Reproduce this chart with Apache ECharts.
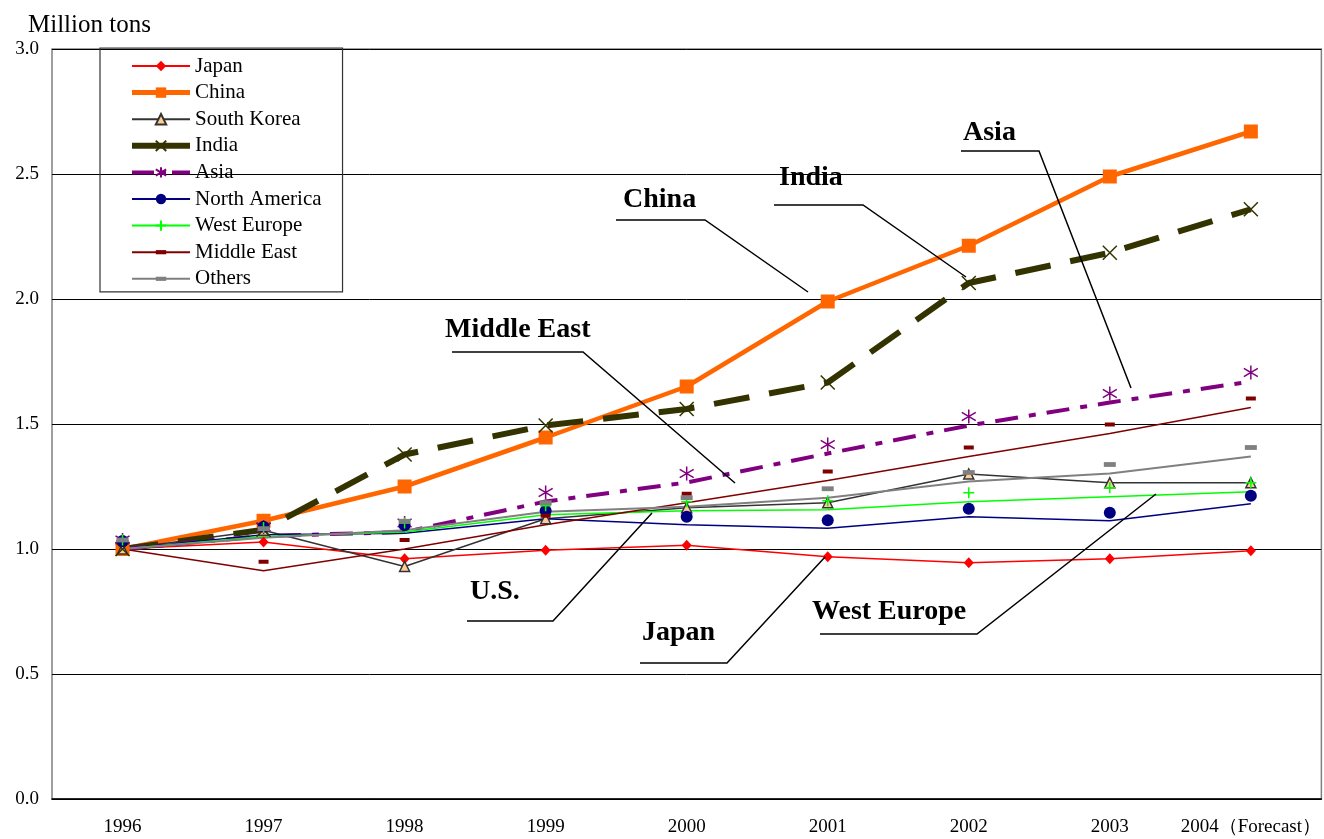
<!DOCTYPE html>
<html>
<head>
<meta charset="utf-8">
<script src="https://cdn.jsdelivr.net/npm/echarts@6/dist/echarts.min.js"></script>
<style>
html,body{margin:0;padding:0;background:#fff;}
#chart{width:1324px;height:839px;}
</style>
</head>
<body>
<div id="chart"></div>
<script>
// ---- data ----
const categories = ['1996','1997','1998','1999','2000','2001','2002','2003','2004（Forecast）'];
const japan        = [1.000, 1.028, 0.961, 0.995, 1.015, 0.969, 0.945, 0.961, 0.993];
const china        = [1.000, 1.113, 1.250, 1.446, 1.650, 1.990, 2.213, 2.490, 2.670];
const southKorea   = [1.000, 1.075, 0.930, 1.121, 1.165, 1.185, 1.300, 1.265, 1.265];
const india        = [1.000, 1.077, 1.378, 1.494, 1.560, 1.666, 2.064, 2.185, 2.359];
const asia         = [1.000, 1.052, 1.068, 1.190, 1.266, 1.382, 1.494, 1.586, 1.670];
const northAmerica = [1.000, 1.057, 1.063, 1.121, 1.097, 1.083, 1.129, 1.113, 1.181];
const westEurope   = [1.000, 1.050, 1.068, 1.137, 1.153, 1.157, 1.189, 1.209, 1.229];
const middleEast   = [1.000, 0.913, 1.000, 1.097, 1.185, 1.274, 1.370, 1.462, 1.566];
const others       = [1.000, 1.045, 1.075, 1.149, 1.169, 1.205, 1.270, 1.302, 1.370];
const yMin = 0, yMax = 3, yStep = 0.5;
const annotations = [
  {text:'China',       tx:623, ty:200, pts:[[616,220],[705,220],[808,292]]},
  {text:'India',       tx:779, ty:178, pts:[[774,205],[863,205],[966,277]]},
  {text:'Asia',        tx:963, ty:133, pts:[[961,151],[1039,151],[1131,388]]},
  {text:'Middle East', tx:445, ty:330, pts:[[452,352],[583,352],[735,483]]},
  {text:'U.S.',        tx:470, ty:592, pts:[[467,621],[553,621],[652,513]]},
  {text:'Japan',       tx:642, ty:633, pts:[[640,663],[727,663],[825,557]]},
  {text:'West Europe', tx:812, ty:612, pts:[[820,634],[977,634],[1156,494]]}
];

const FONT = '"Liberation Serif","Times New Roman",serif';
const chart = echarts.init(document.getElementById('chart'), null, {renderer:'canvas'});

// flat bar symbol inside a square box (so legend icon stays flat too)
const flatBar = 'path://M0,0 M10,10 M0,3 L10,3 L10,7 L0,7 Z';

function line(name, data, color, width, symbol, size, extra) {
  return Object.assign({
    name, type:'line', data,
    lineStyle:{color, width},
    itemStyle:{color},
    symbol, symbolSize:size,
    showSymbol:true, animation:false
  }, extra || {});
}

const series = [
  line('Japan', japan, '#FF0000', 1.5, 'diamond', [10,11]),
  line('China', china, '#FF6600', 4.5, 'rect', 14),
  line('South Korea', southKorea, '#333333', 1.5, 'triangle', 10,
       {itemStyle:{color:'#FFCC99', borderColor:'#333333', borderWidth:1.5}}),
  line('India', india, '#333300', 6, 'path://M0,0 L10,10 M0,10 L10,0', 14,
       {lineStyle:{color:'#333300', width:6, type:[36,20]},
        itemStyle:{color:'#333300', borderColor:'#333300', borderWidth:1.5}}),
  line('Asia', asia, '#800080', 4, 'path://M5,0 L5,10 M0,2 L10,8 M0,8 L10,2', 14,
       {lineStyle:{color:'#800080', width:4, type:[23,11,7,11]},
        itemStyle:{color:'#800080', borderColor:'#800080', borderWidth:1.5},
        symbolOffset:[0,-9]}),
  line('North America', northAmerica, '#000080', 1.5, 'circle', 12, {symbolOffset:[0,-8]}),
  line('West Europe', westEurope, '#00FF00', 1.5, 'path://M5,0 L5,10 M0,5 L10,5', 11,
       {itemStyle:{color:'#00FF00', borderColor:'#00FF00', borderWidth:1.5},
        symbolOffset:[0,-9]}),
  line('Middle East', middleEast, '#800000', 1.5, flatBar, 10, {symbolOffset:[0,-9]}),
  line('Others', others, '#808080', 2, flatBar, 12, {symbolOffset:[0,-9]})
];

const legendStyles = {
  'China': {lineStyle:{width:5, color:'#FF6600'}},
  'India': {lineStyle:{width:6, color:'#333300', type:'solid'}},
  'Asia':  {lineStyle:{width:4, color:'#800080', type:[22,6,6,6]}}
};

const graphics = [];
annotations.forEach(a => {
  graphics.push({type:'polyline', silent:true, z:50,
    shape:{points:a.pts}, style:{stroke:'#000', lineWidth:1.5, fill:null}});
  graphics.push({type:'text', silent:true, z:50, x:a.tx, y:a.ty,
    style:{text:a.text, font:'bold 28px ' + FONT, fill:'#000',
           textAlign:'left', textVerticalAlign:'middle'}});
});

chart.setOption({
  animation:false,
  backgroundColor:'#fff',
  title:{text:'Million tons', left:23, top:8,
    textStyle:{fontFamily:FONT, fontSize:25, fontWeight:'normal', color:'#000'}},
  grid:{left:52, right:2, top:49, bottom:40, show:true,
        borderColor:'#808080', borderWidth:1.5, backgroundColor:'transparent'},
  legend:{
    orient:'vertical', left:100, top:48,
    padding:[7.5,21,2.5,29],
    borderColor:'#333', borderWidth:1.2,
    itemWidth:58, itemHeight:13, itemGap:5.6,
    textStyle:{fontFamily:FONT, fontSize:21, lineHeight:21, color:'#000'},
    data:series.map(s => Object.assign({name:s.name}, legendStyles[s.name] || {}))
  },
  xAxis:{
    type:'category', data:categories, boundaryGap:true,
    axisLine:{lineStyle:{color:'#000', width:1.5}},
    axisTick:{inside:true, length:6, lineStyle:{color:'#000'}},
    axisLabel:{fontFamily:FONT, fontSize:19, color:'#000', margin:19, interval:0},
    splitLine:{show:false}
  },
  yAxis:{
    type:'value', min:yMin, max:yMax, interval:yStep,
    axisLine:{show:false}, axisTick:{show:false},
    axisLabel:{fontFamily:FONT, fontSize:19, color:'#000', margin:13,
               formatter:v => v.toFixed(1)},
    splitLine:{lineStyle:{color:'#000', width:1}}
  },
  series,
  graphic:graphics
});
</script>
</body>
</html>
